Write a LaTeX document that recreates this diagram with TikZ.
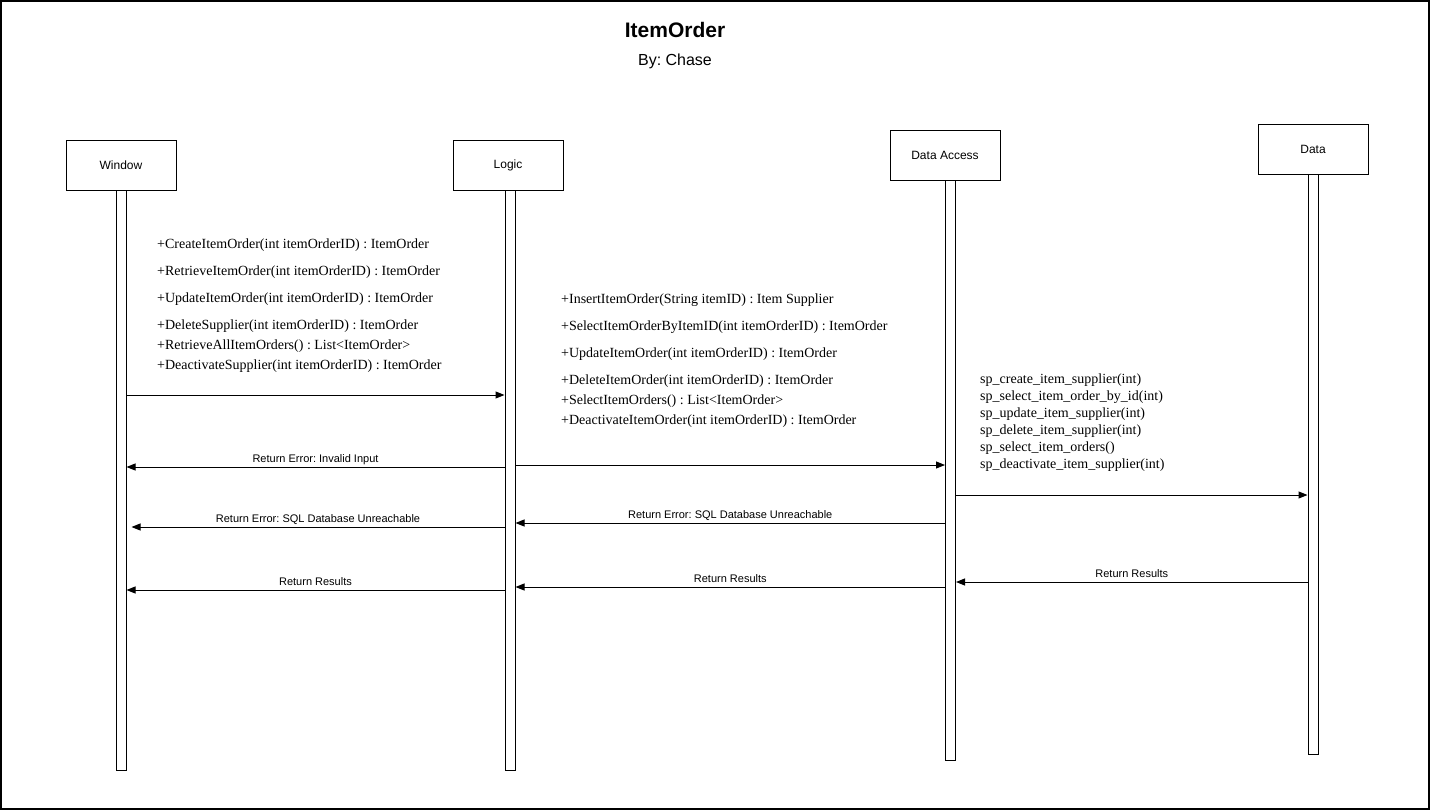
\documentclass[tikz,border=0pt]{standalone}
\usepackage{fontspec}
\setmainfont{Liberation Sans}
\newfontfamily\methodfont{Liberation Serif}
\usetikzlibrary{arrows.meta,positioning}
\frenchspacing

\tikzset{
  head/.style={draw, line width=1pt, minimum width=110pt, minimum height=50pt, inner sep=0pt, font=\fontsize{12}{14}\selectfont},
  bar/.style={draw, line width=1pt, fill=white, minimum width=10pt, minimum height=580pt, inner sep=0pt, anchor=north},
  msg/.style={line width=1pt, -{Triangle[length=9pt,width=7pt]}},
  lbl/.style={above, inner sep=2pt, text depth=2pt, font=\fontsize{11}{13}\selectfont},
  methods/.style={align=left, anchor=north west, inner sep=0pt, font=\fontsize{14}{17}\selectfont\methodfont}
}

\begin{document}
\begin{tikzpicture}[x=1pt, y=-1pt]
    \useasboundingbox (0,0) rectangle (1431,811);
    \draw[line width=1.5pt] (1,1) rectangle (1429,809);

    \node[font=\fontsize{21}{25}\selectfont\bfseries] (title) at (675,30) {ItemOrder};
    \node[font=\fontsize{16}{19}\selectfont] (author) at (675,61) {By: Chase};

    % heads
    \node[head] (window) at (121,165) {Window};
    \node[head] (logic) at (508,165) {Logic};
    \node[head] (access) at (945,155) {Data Access};
    \node[head] (data) at (1313,149) {Data};

    % lifelines
    \node[bar] (windowbar) at (121,190) {};
    \node[bar] (logicbar) at (510,190) {};
    \node[bar] (accessbar) at (950.5,180) {};
    \node[bar] (databar) at (1313,174) {};

    % calls
    \node[methods] (windowcalls) at (157,239) {+CreateItemOrder(int itemOrderID) : ItemOrder\\[10pt]
      +RetrieveItemOrder(int itemOrderID) : ItemOrder\\[10pt]
      +UpdateItemOrder(int itemOrderID) : ItemOrder\\[10pt]
      +DeleteSupplier(int itemOrderID) : ItemOrder\\[3pt]
      +RetrieveAllItemOrders() : List<ItemOrder>\\[3pt]
      +DeactivateSupplier(int itemOrderID) : ItemOrder};
    \node[methods] (logiccalls) at (561,294) {+InsertItemOrder(String itemID) : Item Supplier\\[10pt]
      +SelectItemOrderByItemID(int itemOrderID) : ItemOrder\\[10pt]
      +UpdateItemOrder(int itemOrderID) : ItemOrder\\[10pt]
      +DeleteItemOrder(int itemOrderID) : ItemOrder\\[3pt]
      +SelectItemOrders() : List<ItemOrder>\\[3pt]
      +DeactivateItemOrder(int itemOrderID) : ItemOrder};
    \node[methods] (accesscalls) at (980,374) {sp\_create\_item\_supplier(int)\\
      sp\_select\_item\_order\_by\_id(int)\\
      sp\_update\_item\_supplier(int)\\
      sp\_delete\_item\_supplier(int)\\
      sp\_select\_item\_orders()\\
      sp\_deactivate\_item\_supplier(int)};

    % messages
    \draw[msg] (windowbar.east |- 0,395) -- (logicbar.west |- 0,395);
    \draw[msg] (logicbar.east |- 0,465) -- (accessbar.west |- 0,465);
    \draw[msg] (accessbar.east |- 0,495) -- (databar.west |- 0,495);

    % returns
    \draw[msg] (logicbar.west |- 0,467) -- (windowbar.east |- 0,467)
      node[lbl, midway] {Return Error: Invalid Input};
    \draw[msg] (logicbar.west |- 0,527) -- ([xshift=5pt]windowbar.east |- 0,527)
      node[lbl, midway] {Return Error: SQL Database Unreachable};
    \draw[msg] (accessbar.west |- 0,523) -- (logicbar.east |- 0,523)
      node[lbl, midway] {Return Error: SQL Database Unreachable};
    \draw[msg] (databar.west |- 0,582) -- (accessbar.east |- 0,582)
      node[lbl, midway] {Return Results};
    \draw[msg] (accessbar.west |- 0,587) -- (logicbar.east |- 0,587)
      node[lbl, midway] {Return Results};
    \draw[msg] (logicbar.west |- 0,590) -- (windowbar.east |- 0,590)
      node[lbl, midway] {Return Results};
\end{tikzpicture}
\end{document}
